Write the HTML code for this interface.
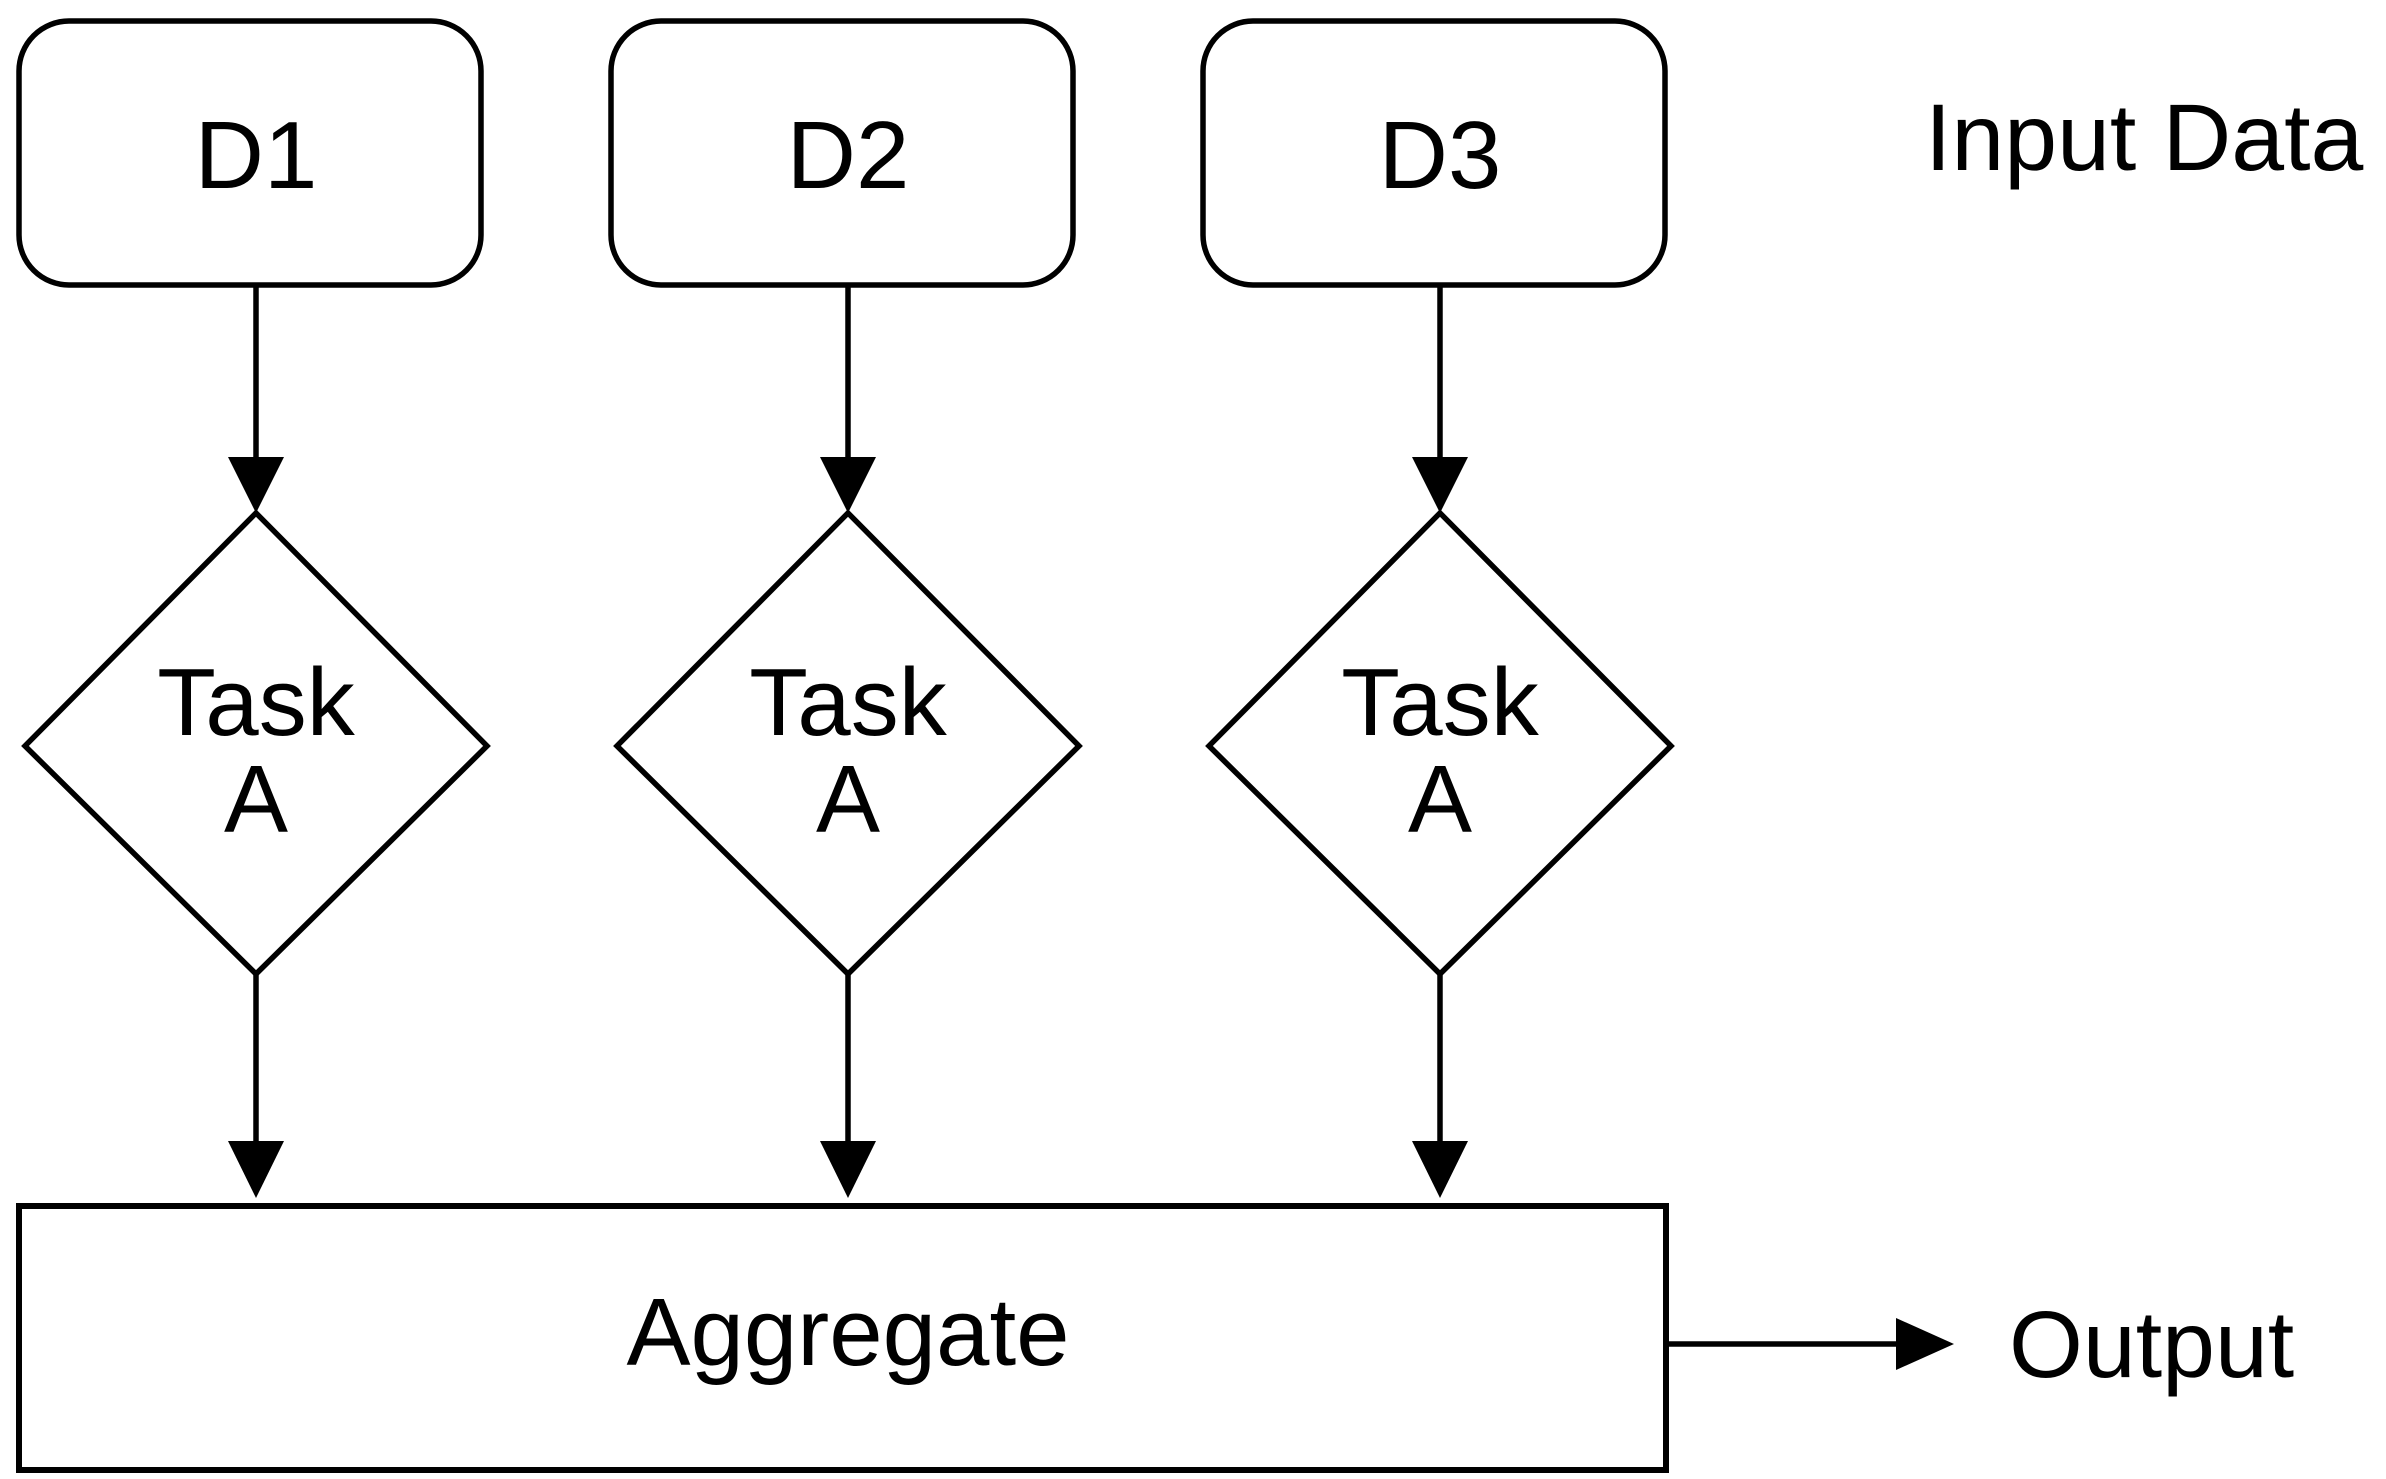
<!DOCTYPE html>
<html><head><style>html,body{margin:0;padding:0;background:#fff;}svg{display:block;}</style></head>
<body>
<svg width="2386" height="1479" viewBox="0 0 2386 1479" xmlns="http://www.w3.org/2000/svg" font-family="Liberation Sans, Arial, sans-serif" fill="none" stroke="#000">
<g stroke-width="5.5">
<rect x="19" y="21" width="462" height="264" rx="50"/>
<rect x="611" y="21" width="462" height="264" rx="50"/>
<rect x="1203" y="21" width="462" height="264" rx="50"/>
<polygon points="256,513 487,746 256,974 25,746"/>
<polygon points="848,513 1079,746 848,974 617,746"/>
<polygon points="1440,513 1671,746 1440,974 1209,746"/>
<line x1="256" y1="285" x2="256" y2="460"/><line x1="848" y1="285" x2="848" y2="460"/><line x1="1440" y1="285" x2="1440" y2="460"/>
<line x1="256" y1="974" x2="256" y2="1144"/><line x1="848" y1="974" x2="848" y2="1144"/><line x1="1440" y1="974" x2="1440" y2="1144"/>
</g>
<rect x="19" y="1206" width="1647" height="264" stroke-width="6"/>
<line x1="1666" y1="1344" x2="1898" y2="1344" stroke-width="5.5"/>
<g fill="#000" stroke="none">
<polygon points="228,457 284,457 256,513"/><polygon points="820,457 876,457 848,513"/><polygon points="1412,457 1468,457 1440,513"/>
<polygon points="228,1141 284,1141 256,1198"/><polygon points="820,1141 876,1141 848,1198"/><polygon points="1412,1141 1468,1141 1440,1198"/>
<polygon points="1896,1318 1954,1344 1896,1370"/>
<g font-size="96" text-anchor="middle">
<text x="256" y="188">D1</text><text x="848" y="188">D2</text><text x="1440" y="188">D3</text>
<text x="256" y="735">Task</text><text x="256" y="832">A</text>
<text x="848" y="735">Task</text><text x="848" y="832">A</text>
<text x="1440" y="735">Task</text><text x="1440" y="832">A</text>
<text x="848" y="1365">Aggregate</text>
</g>
<text x="1925" y="170" font-size="95">Input Data</text>
<text x="2009" y="1377" font-size="95">Output</text>
</g>
</svg>
</body></html>
